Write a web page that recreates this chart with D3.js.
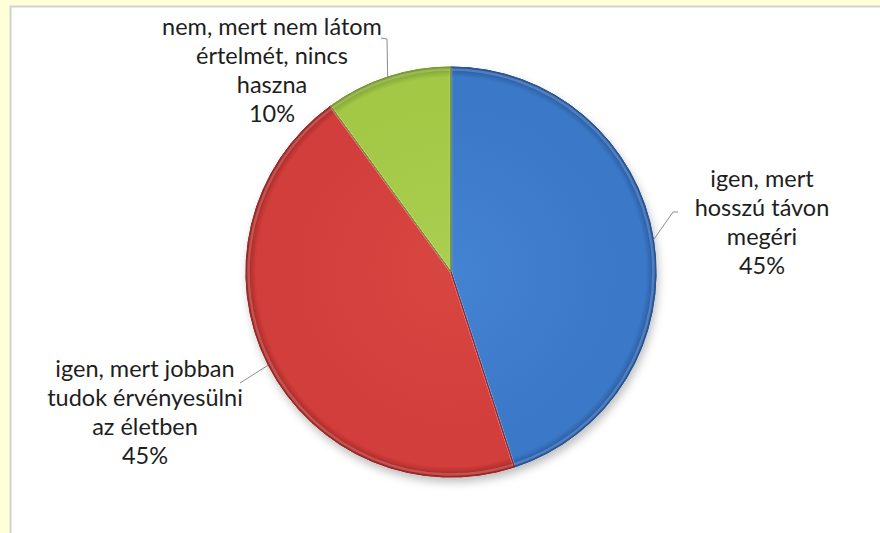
<!DOCTYPE html>
<html>
<head>
<meta charset="utf-8">
<script src="https://cdn.jsdelivr.net/npm/d3@7"></script>
<style>
  html, body { margin: 0; padding: 0; background: #FFFFD8; }
  svg { display: block; }
</style>
</head>
<body>
<svg id="chart" width="880" height="533"></svg>
<script>
// ---- data ----
const categories = [
  "igen, mert hosszú távon megéri",
  "igen, mert jobban tudok érvényesülni az életben",
  "nem, mert nem látom értelmét, nincs haszna"
];
const values = [45, 45, 10];
const percentLabels = ["45%", "45%", "10%"];
const labelLines = [
  ["igen, mert", "hosszú távon", "megéri"],
  ["igen, mert jobban", "tudok érvényesülni", "az életben"],
  ["nem, mert nem látom", "értelmét, nincs", "haszna"]
];
const baseColors  = ["#3B79C8", "#D23E3B", "#A3C846"];
const rimColors   = ["#24549A", "#9E2523", "#789A2D"];
const lightColors = ["#4482D2", "#D84642", "#AACE50"];

// ---- layout ----
const W = 880, H = 533;
const cx = 451, cy = 272, R = 205;
const labelLayout = [
  { x: 762, y: 187, elbow: [673, 212], end: [678, 212] },
  { x: 145, y: 377, elbow: [240, 383], end: [240, 383] },
  { x: 272, y: 35,  elbow: [387, 39],  end: [381, 38] }
];
const lineH = 29;

const svg = d3.select("#chart");
const defs = svg.append("defs");

svg.append("rect").attr("x", 0).attr("y", 0).attr("width", W).attr("height", H).attr("fill", "#FFFFD8");
svg.append("rect").attr("x", 10.5).attr("y", 6.5).attr("width", W + 20).attr("height", H + 20)
  .attr("fill", "#FFFFFF").attr("stroke", "#D2D2D2").attr("stroke-width", 2);

const f = defs.append("filter").attr("id", "shadow")
  .attr("color-interpolation-filters", "sRGB")
  .attr("x", "-20%").attr("y", "-20%").attr("width", "140%").attr("height", "140%");
f.append("feDropShadow").attr("dx", 2).attr("dy", 5).attr("stdDeviation", 4)
  .attr("flood-color", "#000").attr("flood-opacity", 0.25);

baseColors.forEach((c, i) => {
  const g = defs.append("radialGradient").attr("id", "grad" + i)
    .attr("gradientUnits", "userSpaceOnUse")
    .attr("cx", 0).attr("cy", 0).attr("r", R);
  g.append("stop").attr("offset", "0%").attr("stop-color", lightColors[i]);
  g.append("stop").attr("offset", "80%").attr("stop-color", c);
  g.append("stop").attr("offset", "95%").attr("stop-color", c);
  g.append("stop").attr("offset", "100%").attr("stop-color", rimColors[i]);
});

const pie = d3.pie().sort(null).value(d => d).startAngle(0).endAngle(2 * Math.PI);
const arcs = pie(values);
const arc = d3.arc().innerRadius(0).outerRadius(R);

const gPie = svg.append("g").attr("transform", `translate(${cx},${cy})`);
gPie.append("g").attr("filter", "url(#shadow)")
  .selectAll("path").data(arcs).join("path")
  .attr("d", arc)
  .attr("fill", (d, i) => `url(#grad${i})`)
  .attr("stroke", (d, i) => rimColors[i])
  .attr("stroke-width", 1)
  .attr("stroke-linejoin", "round");
gPie.selectAll("path.bevel").data(arcs).join("path")
  .attr("class", "bevel")
  .attr("d", d3.arc().innerRadius(0).outerRadius(R - 2.5))
  .attr("fill", "none")
  .attr("stroke", "#fff").attr("stroke-opacity", 0.2).attr("stroke-width", 2.5);
gPie.selectAll("path.edge").data(arcs).join("path")
  .attr("class", "edge")
  .attr("d", arc)
  .attr("fill", "none")
  .attr("stroke", (d, i) => rimColors[i]).attr("stroke-width", 1);

const leaders = svg.append("g");
arcs.forEach((d, i) => {
  const a = (d.startAngle + d.endAngle) / 2;
  const p = [cx + R * Math.sin(a), cy - R * Math.cos(a)];
  const L = labelLayout[i];
  leaders.append("path")
    .attr("d", d3.line()([p, L.elbow, L.end]))
    .attr("fill", "none").attr("stroke", "#8C8C8C").attr("stroke-width", 1);
});

const labels = svg.append("g")
  .attr("font-family", "Lato, 'Open Sans', sans-serif")
  .attr("font-size", 23.5)
  .attr("fill", "#1E1E1E")
  .attr("text-anchor", "middle");
labelLines.forEach((lines, i) => {
  const L = labelLayout[i];
  const t = labels.append("text").attr("x", L.x).attr("y", L.y);
  lines.concat([percentLabels[i]]).forEach((s, k) => {
    t.append("tspan").attr("x", L.x).attr("y", L.y + k * lineH).text(s);
  });
});
</script>
</body>
</html>
